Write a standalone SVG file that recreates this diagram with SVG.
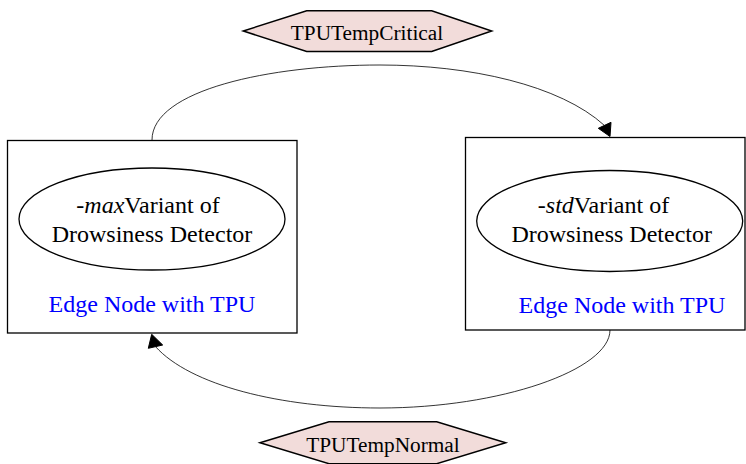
<svg xmlns="http://www.w3.org/2000/svg" width="746" height="464" viewBox="0 0 746 464">
  <style>
    .box { fill: #ffffff; stroke: #000000; stroke-width: 1.3; }
    .oval { fill: #ffffff; stroke: #000000; stroke-width: 1.3; }
    .hex { fill: #f2dcda; stroke: #000000; stroke-width: 1.5; }
    .lbl { font-family: "Liberation Serif", "Times New Roman", serif; font-size: 24px; fill: #000000; text-anchor: middle; }
    .host { font-family: "Liberation Serif", "Times New Roman", serif; font-size: 24px; fill: #0000ff; text-anchor: middle; }
    .ev { font-family: "Liberation Serif", "Times New Roman", serif; font-size: 21.3px; fill: #000000; text-anchor: middle; }
    .edge { fill: none; stroke: #000000; stroke-width: 0.8; }
    .head { fill: #000000; stroke: #000000; stroke-width: 1; }
  </style>

  <rect width="746" height="464" fill="#ffffff"/>

  <!-- transitions between the two variants -->
  <g id="connectors">
    <path class="edge" d="M152,140 C152,90 270,65 380,65 C470,65 560,85 604.5,125.5"/>
    <polygon class="head" points="610,136.5 598.3,128.3 611,122.3"/>
    <path class="edge" d="M610,330 C610,370 500,408 380,408 C280,408 190,385 155.5,346.6"/>
    <polygon class="head" points="151.7,334.3 148.3,348.3 162.7,345"/>
  </g>

  <g id="max-host">
    <rect class="box" x="7.5" y="140.5" width="289.5" height="192.5"/>
    <text class="host" x="152" y="311.5">Edge Node with TPU</text>
  </g>
  <g id="max-variant">
    <ellipse class="oval" cx="152" cy="219" rx="133" ry="51"/>
    <text class="lbl" x="148" y="212.5">-<tspan font-style="italic">max</tspan>Variant of</text>
    <text class="lbl" x="152" y="241.5">Drowsiness Detector</text>
  </g>

  <g id="std-host">
    <rect class="box" x="465.5" y="137.5" width="279.5" height="192.5"/>
    <text class="host" x="622" y="313.3">Edge Node with TPU</text>
  </g>
  <g id="std-variant">
    <ellipse class="oval" cx="609.7" cy="221" rx="133" ry="50.5"/>
    <text class="lbl" x="603.5" y="212.7">-<tspan font-style="italic">std</tspan>Variant of</text>
    <text class="lbl" x="611.7" y="241.7">Drowsiness Detector</text>
  </g>

  <g id="tpu-temp-critical">
    <polygon class="hex" points="243.3,31 306.7,10.7 431.7,10.7 491.7,31 431.7,51.5 306.7,51.5"/>
    <text class="ev" x="367" y="39.5">TPUTempCritical</text>
  </g>

  <g id="tpu-temp-normal">
    <polygon class="hex" points="260,442.7 329,421.7 436.7,421.7 505.7,442.7 436.7,463.7 329,463.7"/>
    <text class="ev" x="383" y="451.5">TPUTempNormal</text>
  </g>
</svg>
